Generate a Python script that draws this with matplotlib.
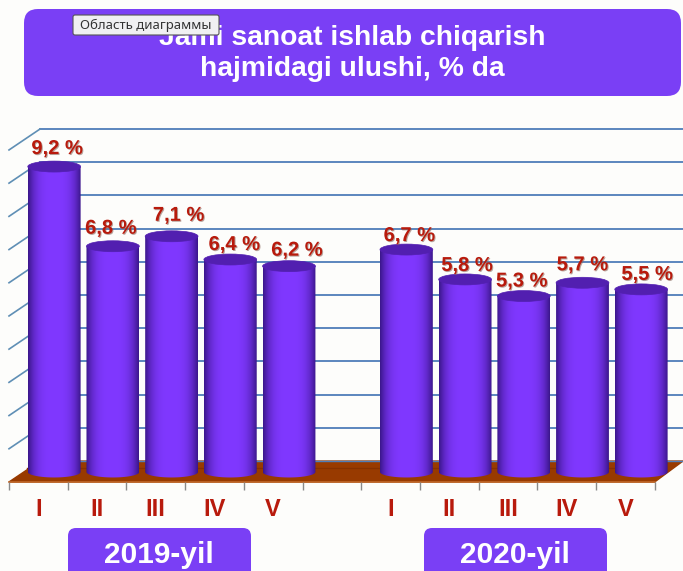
import matplotlib

matplotlib.use("Agg")
import matplotlib.pyplot as plt
import matplotlib.patheffects as pe
import numpy as np
from matplotlib.patches import Ellipse, FancyBboxPatch, Polygon
from matplotlib.transforms import Affine2D

W, H = 683, 571

# data
quarters = ["I", "II", "III", "IV", "V"]
share_2019 = [9.2, 6.8, 7.1, 6.4, 6.2]
share_2020 = [6.7, 5.8, 5.3, 5.7, 5.5]
year_labels = ["2019-yil", "2020-yil"]
title_lines = ["Jami sanoat ishlab chiqarish", "hajmidagi ulushi, % da"]
grid_values = list(range(1, 11))
tooltip_text = "Область диаграммы"

# layout: label shifts from the top centre of each bar, in pixels
label_shift = [(3, 18), (-2, 18), (7, 21), (4, 15), (8, 16), (3, 14), (2, 14), (-2, 15), (0, 18), (6, 15)]

VIOLET = "#7a3ff5"
RED = "#b81a0c"
BLUE = "#4f7db9"
BROWN = "#983a00"

BAR_W = 0.90
BAR_SHIFT = 0.27
CAP_H = 0.33
BACK = 0.33
FRONT = -0.30
DEPTH = 0.528

plt.rcParams["font.family"] = ["Liberation Sans", "DejaVu Sans"]

fig = plt.figure(figsize=(W / 100, H / 100), dpi=100, facecolor="#fdfdfb")
ax = fig.add_axes([0, 0, 1, 1])
ax.axis("off")
xlim = (-9 / 58.7, 674 / 58.7)
ylim = (-99 / 33.2, 472 / 33.2)

# pixel coordinates for the panels around the chart
px = Affine2D().scale(1 / W, -1 / H).translate(0, 1) + fig.transFigure

# back wall and floor
slots = np.arange(12)
right = xlim[1]
for v in grid_values:
    ax.plot([DEPTH, right], [BACK + v, BACK + v], color=BLUE, lw=1.3, zorder=1)
    ax.plot([0, DEPTH], [BACK + v - (BACK - FRONT), BACK + v], color="#5f8fb5", lw=1.2, zorder=1)
ax.add_patch(Polygon([(0, FRONT), (11, FRONT), (right, BACK), (DEPTH, BACK)], color=BROWN, zorder=2))
ax.plot([DEPTH, right], [BACK, BACK], color=BLUE, lw=1, zorder=2)
ax.plot([0.3, 10.8], [0.13, 0.13], color="#853000", lw=1, zorder=2)
ax.plot([0, 11], [FRONT, FRONT], color="#c0682a", lw=1.2, zorder=2)
ax.vlines(slots, FRONT, FRONT - 0.25, color="#8a8a8a", lw=1, zorder=2)

# cylinders
shade = np.abs(np.linspace(-1, 1, 64)) ** 3.2
col_edge = np.array([0x3c, 0x17, 0x8c]) / 255
col_mid = np.array([0x80, 0x38, 0xff]) / 255
grad = (col_mid + (col_edge - col_mid) * shade[:, None])[None, :, :]

values = share_2019 + share_2020
bar_slots = [0, 1, 2, 3, 4, 6, 7, 8, 9, 10]
for i, (s, v) in enumerate(zip(bar_slots, values)):
    xc = s + 0.5 + BAR_SHIFT
    t = np.linspace(np.pi, 2 * np.pi, 40)
    outline = np.vstack(
        [
            [xc - BAR_W / 2, v],
            np.column_stack([xc + BAR_W / 2 * np.cos(t), CAP_H / 2 * np.sin(t)]),
            [xc + BAR_W / 2, v],
        ]
    )
    body = Polygon(outline, closed=True, facecolor="none", edgecolor="none", zorder=3)
    ax.add_patch(body)
    im = ax.imshow(
        grad,
        extent=(xc - BAR_W / 2, xc + BAR_W / 2, -CAP_H, v),
        aspect="auto",
        zorder=3,
        interpolation="bilinear",
    )
    im.set_clip_path(body)
    ax.add_patch(Ellipse((xc, v), BAR_W, CAP_H, facecolor="#521fb0", edgecolor="#521fb0", lw=0.5, zorder=4))
    dx, dy = label_shift[i]
    ax.annotate(
        f"{v:.1f} %".replace(".", ","),
        (xc, v),
        xytext=(dx * 0.72, dy * 0.72),
        textcoords="offset points",
        ha="center",
        va="center",
        color=RED,
        fontsize=14.5,
        fontweight="bold",
        zorder=6,
        path_effects=[pe.withSimplePatchShadow(offset=(0.7, -0.7), shadow_rgbFace="#8a6a60", alpha=0.6)],
    )

# quarter labels
for s, name in zip(bar_slots, quarters + quarters):
    ax.text(s + 0.5, -1.14, name, ha="center", va="center", color=RED, fontsize=17, fontweight="bold", zorder=6)

ax.set_xlim(xlim)
ax.set_ylim(ylim)


def panel(x0, y0, x1, y1, rad):
    ax.add_patch(
        FancyBboxPatch(
            (x0 + rad, y0 + rad),
            x1 - x0 - 2 * rad,
            y1 - y0 - 2 * rad,
            boxstyle=f"round,pad={rad},rounding_size={rad}",
            transform=px,
            facecolor=VIOLET,
            edgecolor="none",
            zorder=7,
            clip_on=True,
        )
    )


# title panel
panel(24, 9, 681, 96, 14)
ax.text(352, 38, title_lines[0], transform=px, ha="center", va="center", color="white", fontsize=20.3, fontweight="bold", zorder=8)
ax.text(352, 69, title_lines[1], transform=px, ha="center", va="center", color="white", fontsize=20.3, fontweight="bold", zorder=8)

# year panels
panel(68, 528, 251, 600, 8)
panel(424, 528, 607, 600, 8)
ax.text(159, 555, year_labels[0], transform=px, ha="center", va="center", color="white", fontsize=21.5, fontweight="bold", zorder=8)
ax.text(515, 555, year_labels[1], transform=px, ha="center", va="center", color="white", fontsize=21.5, fontweight="bold", zorder=8)

# tooltip left over the title
ax.add_patch(
    FancyBboxPatch(
        (75, 17),
        142,
        16,
        boxstyle="round,pad=2,rounding_size=2",
        transform=px,
        facecolor="#f0f0f2",
        edgecolor="#555555",
        lw=0.8,
        zorder=9,
    )
)
ax.text(146, 25.5, tooltip_text, transform=px, ha="center", va="center", color="#333333", fontsize=9.5, family=["Noto Sans", "DejaVu Sans"], zorder=10)

fig.savefig("out.png", dpi=100, facecolor=fig.get_facecolor())
plt.close(fig)
